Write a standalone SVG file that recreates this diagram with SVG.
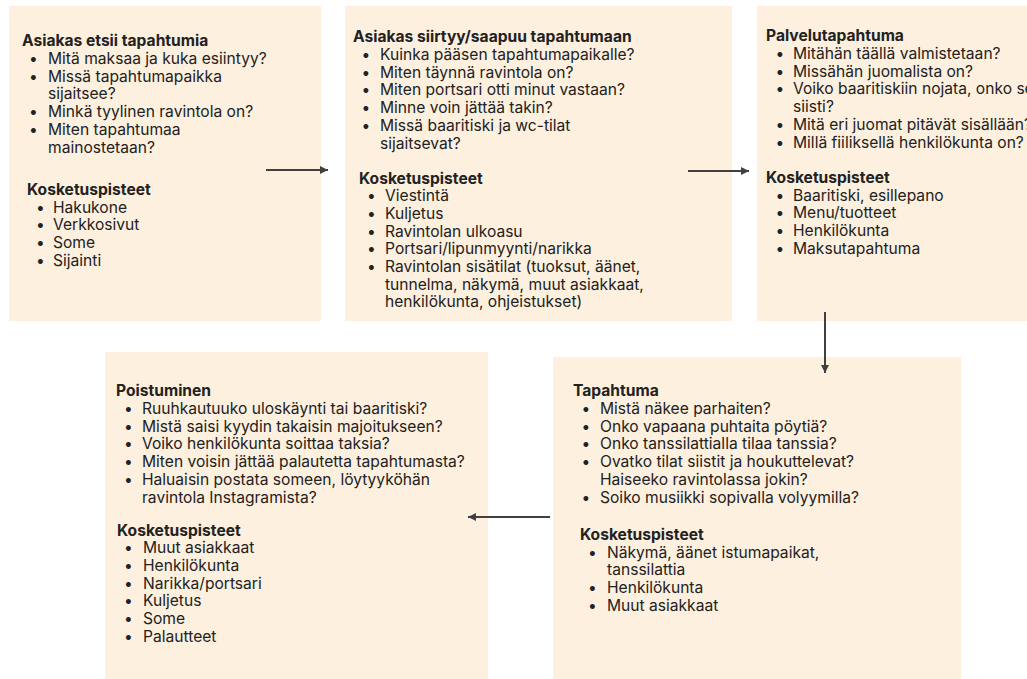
<svg xmlns="http://www.w3.org/2000/svg" width="1027" height="679" viewBox="0 0 1027 679">
<style>
.box{fill:#fdf0de}
text{font-family:Inter,"Liberation Sans",sans-serif;font-size:15.6px;fill:#222}
.h{font-weight:700}
.conn{stroke:#404040;stroke-width:2;fill:none}
</style>
<defs>
<marker id="ah" viewBox="0 0 8 8" refX="8" refY="4" markerWidth="8" markerHeight="8" markerUnits="userSpaceOnUse" orient="auto">
<path d="M0,0 L8,4 L0,8 z" fill="#404040"/>
</marker>
</defs>
<rect width="1027" height="679" fill="#fff"/>

<g id="n1">
<rect class="box" x="9" y="6" width="312" height="315"/>
<text class="h" x="22" y="46">Asiakas etsii tapahtumia</text>
<text><tspan x="29" y="64">•</tspan><tspan x="48" y="64">Mitä maksaa ja kuka esiintyy?</tspan><tspan x="29" y="81.7">•</tspan><tspan x="48" y="81.7">Missä tapahtumapaikka</tspan><tspan x="48" y="99.4">sijaitsee?</tspan><tspan x="29" y="117.1">•</tspan><tspan x="48" y="117.1">Minkä tyylinen ravintola on?</tspan><tspan x="29" y="134.8">•</tspan><tspan x="48" y="134.8">Miten tapahtumaa</tspan><tspan x="48" y="152.5">mainostetaan?</tspan></text>
<text class="h" x="27" y="195">Kosketuspisteet</text>
<text><tspan x="36" y="212.5">•</tspan><tspan x="53" y="212.5">Hakukone</tspan><tspan x="36" y="230.2">•</tspan><tspan x="53" y="230.2">Verkkosivut</tspan><tspan x="36" y="247.9">•</tspan><tspan x="53" y="247.9">Some</tspan><tspan x="36" y="265.6">•</tspan><tspan x="53" y="265.6">Sijainti</tspan></text>
</g>

<g id="n2">
<rect class="box" x="345" y="6" width="387" height="315"/>
<text class="h" x="353" y="42">Asiakas siirtyy/saapuu tapahtumaan</text>
<text><tspan x="361.5" y="60">•</tspan><tspan x="380" y="60">Kuinka pääsen tapahtumapaikalle?</tspan><tspan x="361.5" y="77.7">•</tspan><tspan x="380" y="77.7">Miten täynnä ravintola on?</tspan><tspan x="361.5" y="95.4">•</tspan><tspan x="380" y="95.4">Miten portsari otti minut vastaan?</tspan><tspan x="361.5" y="113.1">•</tspan><tspan x="380" y="113.1">Minne voin jättää takin?</tspan><tspan x="361.5" y="130.8">•</tspan><tspan x="380" y="130.8">Missä baaritiski ja wc-tilat</tspan><tspan x="380" y="148.5">sijaitsevat?</tspan></text>
<text class="h" x="359" y="183.5">Kosketuspisteet</text>
<text><tspan x="367" y="201.2">•</tspan><tspan x="385" y="201.2">Viestintä</tspan><tspan x="367" y="218.9">•</tspan><tspan x="385" y="218.9">Kuljetus</tspan><tspan x="367" y="236.6">•</tspan><tspan x="385" y="236.6">Ravintolan ulkoasu</tspan><tspan x="367" y="254.3">•</tspan><tspan x="385" y="254.3">Portsari/lipunmyynti/narikka</tspan><tspan x="367" y="272">•</tspan><tspan x="385" y="272">Ravintolan sisätilat (tuoksut, äänet,</tspan><tspan x="385" y="289.7">tunnelma, näkymä, muut asiakkaat,</tspan><tspan x="385" y="307.4">henkilökunta, ohjeistukset)</tspan></text>
</g>

<g id="n3">
<rect class="box" x="757" y="6" width="280" height="315"/>
<text class="h" x="766" y="41">Palvelutapahtuma</text>
<text><tspan x="775.5" y="59">•</tspan><tspan x="793" y="59">Mitähän täällä valmistetaan?</tspan><tspan x="775.5" y="76.7">•</tspan><tspan x="793" y="76.7">Missähän juomalista on?</tspan><tspan x="775.5" y="94.4">•</tspan><tspan x="793" y="94.4">Voiko baaritiskiin nojata, onko se</tspan><tspan x="793" y="112.1">siisti?</tspan><tspan x="775.5" y="129.8">•</tspan><tspan x="793" y="129.8">Mitä eri juomat pitävät sisällään?</tspan><tspan x="775.5" y="147.5">•</tspan><tspan x="793" y="147.5">Millä fiiliksellä henkilökunta on?</tspan></text>
<text class="h" x="766" y="183">Kosketuspisteet</text>
<text><tspan x="775.5" y="200.7">•</tspan><tspan x="793" y="200.7">Baaritiski, esillepano</tspan><tspan x="775.5" y="218.4">•</tspan><tspan x="793" y="218.4">Menu/tuotteet</tspan><tspan x="775.5" y="236.1">•</tspan><tspan x="793" y="236.1">Henkilökunta</tspan><tspan x="775.5" y="253.8">•</tspan><tspan x="793" y="253.8">Maksutapahtuma</tspan></text>
</g>

<g id="n4">
<rect class="box" x="553" y="357" width="408" height="322"/>
<text class="h" x="573" y="396">Tapahtuma</text>
<text><tspan x="581.5" y="414">•</tspan><tspan x="600" y="414">Mistä näkee parhaiten?</tspan><tspan x="581.5" y="431.7">•</tspan><tspan x="600" y="431.7">Onko vapaana puhtaita pöytiä?</tspan><tspan x="581.5" y="449.4">•</tspan><tspan x="600" y="449.4">Onko tanssilattialla tilaa tanssia?</tspan><tspan x="581.5" y="467.1">•</tspan><tspan x="600" y="467.1">Ovatko tilat siistit ja houkuttelevat?</tspan><tspan x="600" y="484.8">Haiseeko ravintolassa jokin?</tspan><tspan x="581.5" y="502.5">•</tspan><tspan x="600" y="502.5">Soiko musiikki sopivalla volyymilla?</tspan></text>
<text class="h" x="580" y="540">Kosketuspisteet</text>
<text><tspan x="588" y="557.7">•</tspan><tspan x="607" y="557.7">Näkymä, äänet istumapaikat,</tspan><tspan x="607" y="575.4">tanssilattia</tspan><tspan x="588" y="593.1">•</tspan><tspan x="607" y="593.1">Henkilökunta</tspan><tspan x="588" y="610.8">•</tspan><tspan x="607" y="610.8">Muut asiakkaat</tspan></text>
</g>

<g id="n5">
<rect class="box" x="105" y="352" width="383" height="327"/>
<text class="h" x="116" y="396">Poistuminen</text>
<text><tspan x="124" y="414">•</tspan><tspan x="142" y="414">Ruuhkautuuko uloskäynti tai baaritiski?</tspan><tspan x="124" y="431.7">•</tspan><tspan x="142" y="431.7">Mistä saisi kyydin takaisin majoitukseen?</tspan><tspan x="124" y="449.4">•</tspan><tspan x="142" y="449.4">Voiko henkilökunta soittaa taksia?</tspan><tspan x="124" y="467.1">•</tspan><tspan x="142" y="467.1">Miten voisin jättää palautetta tapahtumasta?</tspan><tspan x="124" y="484.8">•</tspan><tspan x="142" y="484.8">Haluaisin postata someen, löytyyköhän</tspan><tspan x="142" y="502.5">ravintola Instagramista?</tspan></text>
<text class="h" x="117" y="535.5">Kosketuspisteet</text>
<text><tspan x="124" y="553.3">•</tspan><tspan x="143" y="553.3">Muut asiakkaat</tspan><tspan x="124" y="571">•</tspan><tspan x="143" y="571">Henkilökunta</tspan><tspan x="124" y="588.7">•</tspan><tspan x="143" y="588.7">Narikka/portsari</tspan><tspan x="124" y="606.4">•</tspan><tspan x="143" y="606.4">Kuljetus</tspan><tspan x="124" y="624.1">•</tspan><tspan x="143" y="624.1">Some</tspan><tspan x="124" y="641.8">•</tspan><tspan x="143" y="641.8">Palautteet</tspan></text>
</g>

<g id="connectors">
<line class="conn" x1="266" y1="170" x2="328" y2="170" marker-end="url(#ah)"/>
<line class="conn" x1="688" y1="171" x2="749" y2="171" marker-end="url(#ah)"/>
<line class="conn" x1="825" y1="312" x2="825" y2="373" marker-end="url(#ah)"/>
<line class="conn" x1="550" y1="517" x2="468" y2="517" marker-end="url(#ah)"/>
</g>
</svg>
